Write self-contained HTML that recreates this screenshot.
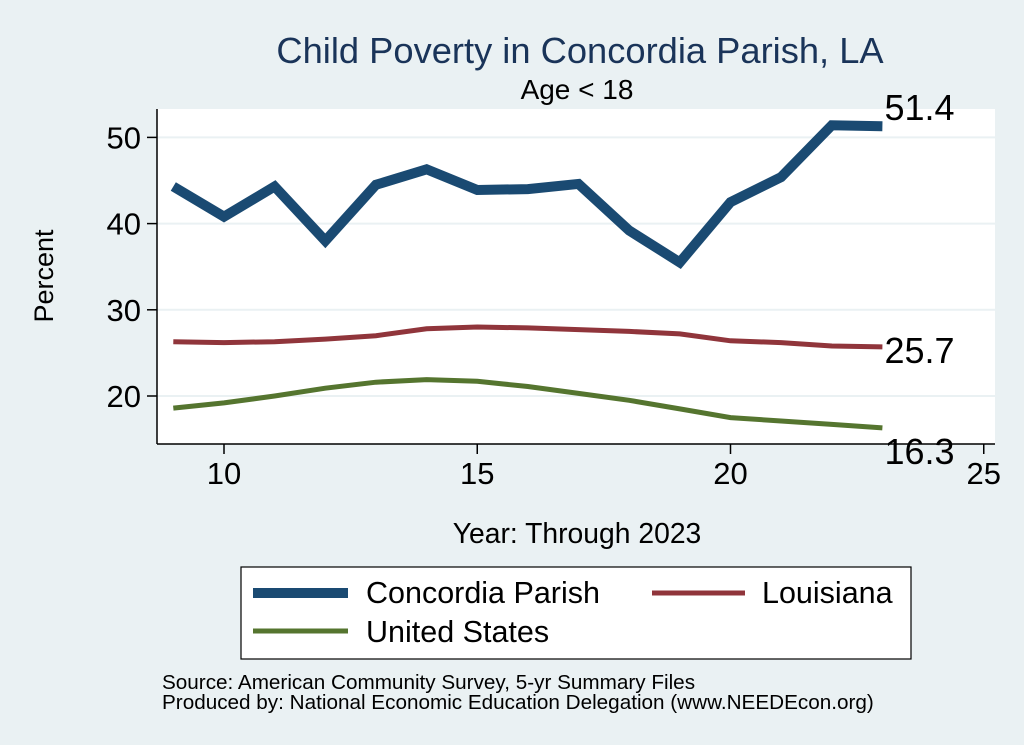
<!DOCTYPE html>
<html><head><meta charset="utf-8"><style>
body{margin:0;background:#eaf1f3;font-family:"Liberation Sans",sans-serif;}
svg{display:block}
</style></head><body>
<svg width="1024" height="745">
<rect x="0" y="0" width="1024" height="745" fill="#eaf1f3"/>
<text x="580" y="63" font-size="36.3" fill="#1a3459" text-anchor="middle">Child Poverty in Concordia Parish, LA</text>
<text x="577" y="99" font-size="28" fill="#000" text-anchor="middle">Age &lt; 18</text>
<rect x="157" y="109" width="838" height="335" fill="#fff"/>
<g id="grid"></g>
<g id="series"></g>
<g id="axes"></g>
<text x="53" y="276" font-size="27" text-anchor="middle" transform="rotate(-90 53 276)">Percent</text>
<text x="577" y="543" font-size="28.3" text-anchor="middle">Year: Through 2023</text>
<g>
<rect x="241" y="567" width="670" height="92" fill="#fff" stroke="#000" stroke-width="1.2"/>
<line x1="253" y1="593" x2="348" y2="593" stroke="#1a4a72" stroke-width="10"/>
<text x="366" y="603" font-size="30.5">Concordia Parish</text>
<line x1="652" y1="593" x2="745" y2="593" stroke="#90353b" stroke-width="5"/>
<text x="762" y="603" font-size="30.5">Louisiana</text>
<line x1="253" y1="631" x2="348" y2="631" stroke="#55752f" stroke-width="5"/>
<text x="366" y="642" font-size="30.5">United States</text>
</g>
<text x="162" y="689" font-size="20.7">Source: American Community Survey, 5-yr Summary Files</text>
<text x="162" y="709" font-size="20.7">Produced by: National Economic Education Delegation (www.NEEDEcon.org)</text>
</svg>
<script>
const years=[9,10,11,12,13,14,15,16,17,18,19,20,21,22,23];
const concordia=[44.3,40.8,44.3,38.0,44.5,46.3,43.9,44.0,44.6,39.2,35.5,42.5,45.4,51.4,51.3];
const louisiana=[26.3,26.2,26.3,26.6,27.0,27.8,28.0,27.9,27.7,27.5,27.2,26.4,26.2,25.8,25.7];
const us=[18.6,19.2,20.0,20.9,21.6,21.9,21.7,21.1,20.3,19.5,18.5,17.5,17.1,16.7,16.3];
const xTicks=[10,15,20,25];
const yTicks=[20,30,40,50];
const endLabels=["51.4","25.7","16.3"];
const NS="http://www.w3.org/2000/svg";
function X(v){return 224+(v-10)*50.65;}
function Y(v){return 396-(v-20)*8.62;}
function mk(tag,attrs,parent){const e=document.createElementNS(NS,tag);for(const k in attrs)e.setAttribute(k,attrs[k]);document.getElementById(parent).appendChild(e);return e;}
yTicks.forEach(t=>{
 const g=mk('line',{x1:157,x2:995,y1:Y(t),y2:Y(t),stroke:'#eaf1f3','stroke-width':2},'grid');
 
 
 const tk=mk('line',{x1:147,x2:157,y1:Y(t),y2:Y(t),stroke:'#000','stroke-width':1.5},'axes');
 
 
 const tx=mk('text',{x:141,y:Y(t)+11,'font-size':31,'text-anchor':'end'},'axes');tx.textContent=t;
 
 
});
xTicks.forEach(t=>{
 const tk=mk('line',{x1:X(t),x2:X(t),y1:444,y2:454,stroke:'#000','stroke-width':1.5},'axes');
 
 
 const tx=mk('text',{x:X(t),y:484,'font-size':31,'text-anchor':'middle'},'axes');tx.textContent=t;
 
 
});
const ya=mk('line',{x1:157,x2:157,y1:109,y2:444,stroke:'#000','stroke-width':1.5},'axes');


const xa=mk('line',{x1:157,x2:995,y1:444,y2:444,stroke:'#000','stroke-width':1.5},'axes');


const series=[[concordia,'#1a4a72',10,'line-concordia'],[louisiana,'#90353b',5,'line-louisiana'],[us,'#55752f',5,'line-us']];
series.forEach((s,i)=>{
 const d=s[0].map((v,j)=>(j?'L':'M')+X(years[j]).toFixed(1)+','+Y(v).toFixed(1)).join(' ');
 const p=mk('path',{d:d,fill:'none',stroke:s[1],'stroke-width':s[2],'stroke-linejoin':'miter'},'series');
 
 
 const last=s[0][s[0].length-1];
 const off=i===0?-6:(i===1?16:36);
 const t=mk('text',{x:X(years[years.length-1])+2,y:Y(last)+off,'font-size':36},'series');t.textContent=endLabels[i];
 
 
});
</script>
</body></html>
